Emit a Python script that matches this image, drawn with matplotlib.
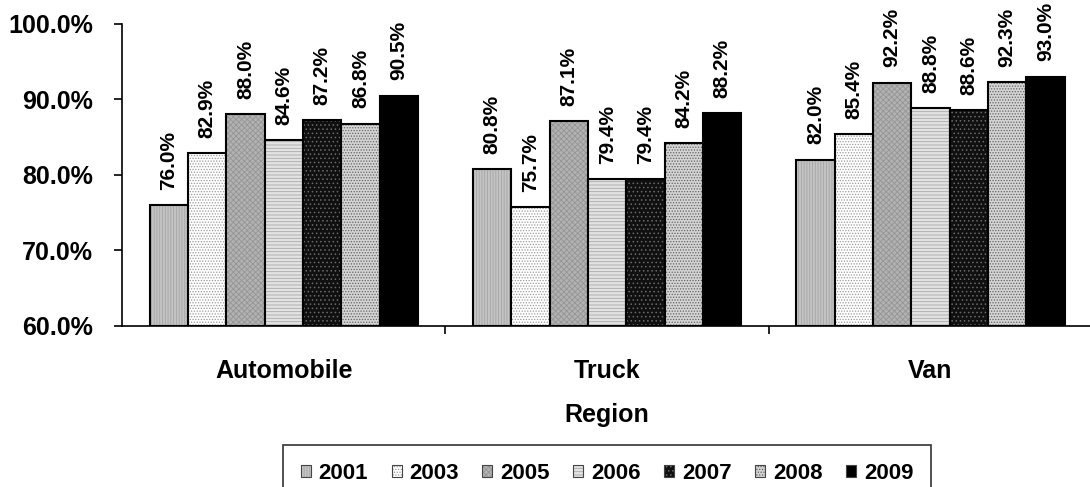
import matplotlib.pyplot as plt
import numpy as np
from matplotlib.patches import Patch

plt.rcParams['font.family'] = ['Liberation Sans', 'DejaVu Sans']
plt.rcParams['font.weight'] = 'bold'
plt.rcParams['hatch.linewidth'] = 0.6

regions = ["Automobile", "Truck", "Van"]
years = ["2001", "2003", "2005", "2006", "2007", "2008", "2009"]
auto = [76.0, 82.9, 88.0, 84.6, 87.2, 86.8, 90.5]
truck = [80.8, 75.7, 87.1, 79.4, 79.4, 84.2, 88.2]
van = [82.0, 85.4, 92.2, 88.8, 88.6, 92.3, 93.0]
y_ticks = [60, 70, 80, 90, 100]

# fill colour, hatch colour, hatch pattern per year
styles = [
    ("#c4c4c4", "#a4a4a4", "||||||"),
    ("#ffffff", "#9a9a9a", "......"),
    ("#b2b2b2", "#959595", "xxxxxx"),
    ("#e2e2e2", "#a8a8a8", "-----"),
    ("#101010", "#6a6a6a", "...."),
    ("#d4d4d4", "#626262", "......"),
    ("#000000", "#000000", ""),
]

data = np.array([auto, truck, van])
y0 = y_ticks[0]

fig = plt.figure(figsize=(10.9, 4.87), dpi=100)
ax = fig.add_axes([0.112, 0.331, 0.89, 0.62])

x = np.arange(len(regions))
w = 0.83 / len(years)
handles = []
for i, yr in enumerate(years):
    fc, hc, hatch = styles[i]
    pos = x - 0.415 + w * (i + 0.5)
    vals = data[:, i]
    ax.bar(pos, vals - y0, w, bottom=y0, color=fc, edgecolor=hc,
           hatch=hatch, linewidth=0)
    ax.bar(pos, vals - y0, w, bottom=y0, fill=False, edgecolor="black",
           linewidth=1.5)
    for px, v in zip(pos, vals):
        ax.annotate(f"{v:.1f}%", (px, v), xytext=(0, 11),
                    textcoords="offset points", rotation=90,
                    ha="center", va="bottom", fontsize=15, fontweight="bold")
    handles.append((Patch(facecolor=fc, edgecolor=hc, hatch=hatch, linewidth=0),
                    Patch(fill=False, edgecolor="#444444", linewidth=0.8)))

ax.set_xlim(-0.5, 2.5)
ax.set_ylim(y0, 100)
ax.set_yticks(y_ticks)
ax.set_yticklabels([f"{t:.1f}%" for t in y_ticks], fontsize=18,
                   fontweight="bold")
ax.tick_params(axis="y", length=6, width=1.2, pad=15)

ax.set_xticks(x)
ax.set_xticklabels(regions, fontsize=18, fontweight="bold")
ax.tick_params(axis="x", which="major", length=0, pad=24)
ax.set_xticks([0.5, 1.5], minor=True)
ax.tick_params(axis="x", which="minor", length=6, width=1.2)
ax.set_xlabel("Region", fontsize=18, fontweight="bold", labelpad=14)

for s in ["top", "right"]:
    ax.spines[s].set_visible(False)
ax.spines["left"].set_linewidth(1.2)
ax.spines["bottom"].set_linewidth(1.2)

leg = fig.legend(handles, years, loc="upper center",
                 bbox_to_anchor=(607 / 1090, 1 - 445 / 487), ncol=7,
                 prop={"size": 16, "weight": "bold"}, frameon=True,
                 fancybox=False, handlelength=0.45, handleheight=0.45,
                 handletextpad=0.36, columnspacing=1.05, borderpad=0.8,
                 borderaxespad=0)
leg.get_frame().set_edgecolor("black")
leg.get_frame().set_linewidth(1.2)

fig.savefig("out.png", dpi=100)
